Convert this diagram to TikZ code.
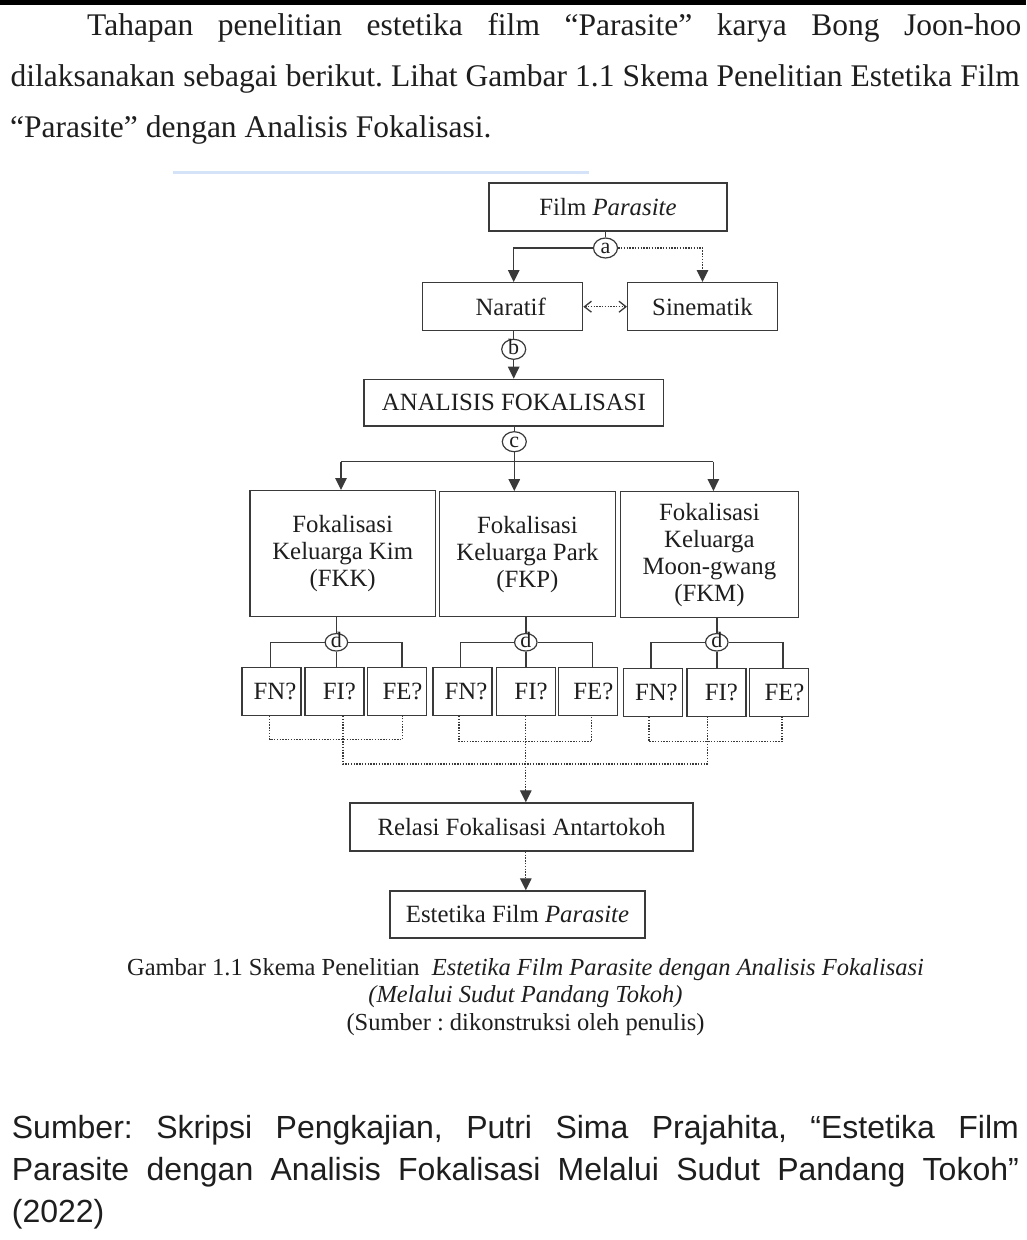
\documentclass[tikz,border=0pt]{standalone}
\usepackage{fontspec}
\setmainfont{Liberation Serif}[Ligatures=NoCommon]
\newfontfamily\sansf{Liberation Sans}[Ligatures=NoCommon]
\usetikzlibrary{arrows.meta,shapes.geometric}
\definecolor{ln}{HTML}{3A3A3A}
\definecolor{tx}{HTML}{1E1E1E}
\definecolor{bl}{HTML}{D5E3F8}
\newcommand\dgmfont{\fontsize{24.8}{27}\selectfont}
\newcommand\circfont{\fontsize{22}{22}\selectfont}
\newcommand\bodyfont{\fontsize{31.5}{38}\selectfont}
\newcommand\mycapfont{\fontsize{24.5}{27.5}\selectfont}
\newcommand\srcfont{\sansf\fontsize{32}{40}\selectfont}
\frenchspacing
\tikzset{
  box/.style={draw=ln, line width=1.4pt, rectangle, inner sep=0pt, text=tx, font=\dgmfont, align=center},
  circ/.style={draw=ln, line width=1.2pt, ellipse, inner sep=0pt, minimum width=24pt, minimum height=20pt,
    text=tx, font=\circfont, text height=11pt, text depth=0pt},
  circd/.style={minimum width=22.5pt, minimum height=17.5pt},
  sbox/.style={box, minimum width=59pt, minimum height=47.5pt},
  con/.style={draw=ln, line width=1.4pt},
  dot/.style={con, line width=1.3pt, dash pattern=on 1.4pt off 1.4pt},
  tri/.style={-{Triangle[length=12pt,width=11.5pt]}},
  barb/.style={{Straight Barb[length=7pt,width=11pt]}-{Straight Barb[length=7pt,width=11pt]}},
  bodytext/.style={inner sep=0pt, anchor=base west, text=tx}
}
\begin{document}
\begin{tikzpicture}[x=1pt,y=-1pt]
\useasboundingbox (0,0) rectangle (1026,1240);
\fill[white] (0,0) rectangle (1026,1240);
\fill[black] (0,0) rectangle (1026,4.5);
% body text
\node[bodytext] (p1) at (87,35) {\bodyfont\makebox[934pt][s]{Tahapan penelitian estetika film “Parasite” karya Bong Joon-hoo}};
\node[bodytext] (p2) at (10.5,86.5) {\bodyfont\makebox[1009pt][s]{dilaksanakan sebagai berikut. Lihat Gambar 1.1 Skema Penelitian Estetika Film}};
\node[bodytext] (p3) at (10,137) {\bodyfont “Parasite” dengan Analisis Fokalisasi.};
\fill[bl] (173,170.5) rectangle (589,173.5);
% diagram nodes
\node[box, minimum width=238pt, minimum height=48pt] (film) at (608,207) {Film \textit{Parasite}};
\node[circ] (a) at (605.5,248) {a};
\node[box, minimum width=160pt, minimum height=48pt] (nar) at (502.7,306.7) {\hspace*{16pt}Naratif};
\node[box, minimum width=149.6pt, minimum height=48pt] (sin) at (702.5,306.7) {Sinematik};
\node[circ] (b) at (513.7,349.3) {b};
\node[box, minimum width=299.7pt, minimum height=46.7pt] (ana) at (513.9,402.7) {ANALISIS FOKALISASI};
\node[circ] (c) at (514.3,441.7) {c};
\coordinate (barL) at (341,461.7);
\coordinate (barR) at (713.4,461.7);
\node[box, minimum width=185.6pt, minimum height=126pt] (fkk) at (342.7,553.7) {Fokalisasi\\Keluarga Kim\\(FKK)};
\node[box, minimum width=176pt, minimum height=125pt] (fkp) at (527.4,554.2) {Fokalisasi\\Keluarga Park\\(FKP)};
\node[box, minimum width=178pt, minimum height=126pt] (fkm) at (709.4,554.7) {Fokalisasi\\Keluarga\\Moon-gwang\\(FKM)};
\node[circ, circd] (dK) at (336.4,642.3) {d};
\node[circ, circd] (dP) at (525.8,642.3) {d};
\node[circ, circd] (dM) at (716.8,642.3) {d};
\node[sbox] (fnK) at (271.5,691.5) {\hspace*{7pt}FN?};
\node[sbox] (fiK) at (334.3,691.5) {\hspace*{10pt}FI?};
\node[sbox] (feK) at (397,691.5) {\hspace*{11pt}FE?};
\node[sbox] (fnP) at (462.5,691.5) {\hspace*{7pt}FN?};
\node[sbox] (fiP) at (526,691.5) {\hspace*{10pt}FI?};
\node[sbox] (feP) at (587.8,691.5) {\hspace*{11pt}FE?};
\node[sbox] (fnM) at (652.9,692.5) {\hspace*{7pt}FN?};
\node[sbox] (fiM) at (716.3,692.5) {\hspace*{10pt}FI?};
\node[sbox] (feM) at (779,692.5) {\hspace*{11pt}FE?};
\node[box, minimum width=343pt, minimum height=48pt] (rel) at (521.5,827) {Relasi Fokalisasi Antartokoh};
\node[box, minimum width=255pt, minimum height=47pt] (est) at (517.5,914.5) {Estetika Film \textit{Parasite}};
% connectors top
\draw[con] (film.south -| a) -- (a.north);
\draw[con,tri] (a.west) -| (b |- nar.north);
\draw[dot,tri] (a.east) -| (sin.north);
\draw[dot,barb] (nar.east) -- (sin.west);
\draw[con] (b |- nar.south) -- (b.north);
\draw[con,tri] (b.south) -- (b |- ana.north);
\draw[con] (c |- ana.south) -- (c.north);
\draw[con] (c.south) -- (c |- barL);
\draw[con] (barL) -- (barR);
\draw[con,tri] (barL) -- (barL |- fkk.north);
\draw[con,tri] (c |- barL) -- (c |- fkp.north);
\draw[con,tri] (barR) -- (barR |- fkm.north);
% d connectors
\draw[con] (dK |- fkk.south) -- (dK.north);
\draw[con] ([xshift=-1.3pt]fnK.north) |- (dK.west);
\draw[con] ([xshift=5pt]feK.north) |- (dK.east);
\draw[con] (dK.south) -- (dK.south |- fiK.north);
\draw[con] (dP |- fkp.south) -- (dP.north);
\draw[con] ([xshift=-2pt]fnP.north) |- (dP.west);
\draw[con] ([xshift=4.6pt]feP.north) |- (dP.east);
\draw[con] (dP.south) -- (dP.south |- fiP.north);
\draw[con] (dM |- fkm.south) -- (dM.north);
\draw[con] ([xshift=-1.9pt]fnM.north) |- (dM.west);
\draw[con] ([xshift=4pt]feM.north) |- (dM.east);
\draw[con] (dM.south) -- (dM.south |- fiM.north);
% dotted brackets
\coordinate (kL) at (269.5,739.5);
\coordinate (kR) at (402.2,739.5);
\coordinate (pL) at (459,741.7);
\coordinate (pR) at (591.7,741.7);
\coordinate (mL) at (649,741.7);
\coordinate (mR) at (781.9,741.7);
\coordinate (hL) at (342.9,764);
\coordinate (hR) at (707.2,764);
\coordinate (hC) at (525.8,764);
\draw[dot] (fnK.south -| kL) -- (kL) -- (kR) -- (feK.south -| kR);
\draw[dot] (fnP.south -| pL) -- (pL) -- (pR) -- (feP.south -| pR);
\draw[dot] (fnM.south -| mL) -- (mL) -- (mR) -- (feM.south -| mR);
\draw[dot] (fiK.south -| hL) -- (hL) -- (hR) -- (fiM.south -| hR);
\draw[dot] (fiP.south -| hC) -- (hC);
\draw[dot,tri] (hC) -- (hC |- rel.north);
\draw[dot,tri] (rel.south -| hC) -- (hC |- est.north);
% caption
\node[anchor=base, inner sep=0pt, text=tx] (cap1) at (525.5,975) {\mycapfont Gambar 1.1 Skema Penelitian\ \ \textit{Estetika Film Parasite dengan Analisis Fokalisasi}};
\node[anchor=base, inner sep=0pt, text=tx] (cap2) at (525.5,1002.5) {\mycapfont\textit{(Melalui Sudut Pandang Tokoh)}};
\node[anchor=base, inner sep=0pt, text=tx] (cap3) at (525.5,1030) {\mycapfont (Sumber : dikonstruksi oleh penulis)};
% source
\node[bodytext] (s1) at (11.7,1138) {\srcfont\makebox[1007pt][s]{Sumber: Skripsi Pengkajian, Putri Sima Prajahita, “Estetika Film}};
\node[bodytext] (s2) at (11.7,1180.5) {\srcfont\makebox[1007pt][s]{Parasite dengan Analisis Fokalisasi Melalui Sudut Pandang Tokoh”}};
\node[bodytext] (s3) at (11.7,1222) {\srcfont (2022)};
\end{tikzpicture}
\end{document}
